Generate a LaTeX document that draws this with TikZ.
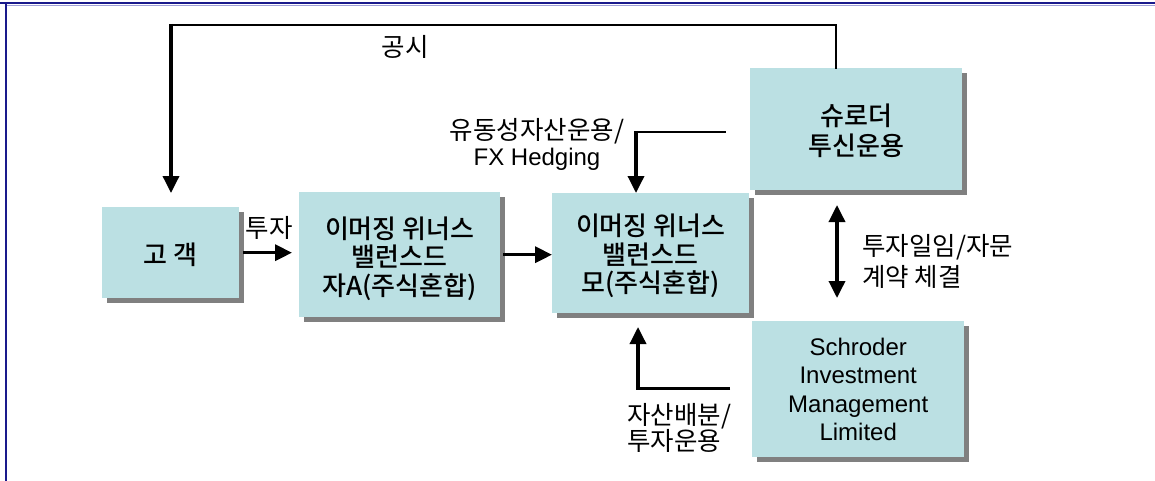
\documentclass[tikz,border=0pt]{standalone}
\usepackage{fontspec}
\setmainfont{Liberation Sans}
\newfontfamily\kr[BoldFont={Noto Sans CJK KR Medium}]{Noto Sans CJK KR}
\usetikzlibrary{arrows.meta,shadows}
\definecolor{boxfill}{RGB}{187,224,227}
\definecolor{shadowgray}{RGB}{128,128,128}
\definecolor{framebl}{RGB}{26,26,140}
\definecolor{framelt}{RGB}{160,160,215}
\begin{document}
\begin{tikzpicture}[x=1pt,y=-1pt,
  box/.style={anchor=north west, fill=boxfill, inner sep=0pt,
    drop shadow={shadow xshift=5pt, shadow yshift=-5pt, fill=shadowgray, opacity=1}},
  boxtext/.style={inner sep=0pt, align=center, font=\kr\bfseries\fontsize{26}{28.5}\selectfont},
  lab/.style={inner sep=0pt, font=\kr\fontsize{25.5}{26}\selectfont},
  tip/.tip={Triangle[width=16pt,length=17pt]},
  thk/.style={line width=3.5pt, -tip},
  thn/.style={line width=2pt}
]
\useasboundingbox (0,0) rectangle (1155,481);
% frame
\draw[framelt, line width=1pt] (6,5.5) -- (1155,5.5);
\draw[framebl, line width=2pt] (0,3.5) -- (1155,3.5);
\draw[framebl, line width=1.7pt] (5.8,3.5) -- (5.8,481);
% boxes
\node[box, minimum width=137pt, minimum height=91pt] (gogaek) at (102,207) {};
\node[box, minimum width=201pt, minimum height=125pt] (ja) at (299,192) {};
\node[box, minimum width=197pt, minimum height=120pt] (mo) at (552,193) {};
\node[box, minimum width=212pt, minimum height=122pt] (shr) at (750,68) {};
\node[box, minimum width=212pt, minimum height=136pt] (sim) at (752,321) {};
% box texts
\node[boxtext] (gogaekT) at ([yshift=-2pt]gogaek.center) {고 객};
\node[boxtext] (jaT) at ([yshift=-4pt]ja.center) {이머징 위너스\\밸런스드\\자A(주식혼합)};
\node[boxtext] (moT) at ([yshift=-3pt]mo.center) {이머징 위너스\\밸런스드\\모(주식혼합)};
\node[boxtext, font=\kr\bfseries\fontsize{26}{30}\selectfont] (shrT) at ([yshift=-2pt]shr.center) {슈로더\\투신운용};
\node[boxtext, font=\fontsize{24}{28.5}\selectfont] (simT) at (sim.center) {Schroder\\Investment\\Management\\Limited};
% labels
\node[lab] (gongsi) at (405,47) {공시};
\node[lab] (tuja) at (269,228) {투자};
\node[lab, align=center] (fx) at (537,144) {유동성자산운용/\\{\rmfamily\fontsize{24}{26}\selectfont FX Hedging}};
\node[lab, align=left, anchor=west] (jasan) at (627,428) {자산배분/\\투자운용};
\node[lab, align=left, anchor=west, font=\kr\fontsize{25.5}{31}\selectfont] (gyeyak) at (862,261) {투자일임/자문\\계약 체결};
% connectors
\coordinate (g1) at (836,25);
\coordinate (g2) at (171,25);
\coordinate (gend) at (171,193);
\draw[thn, line cap=rect] (shr.north -| g1) -- (g1) -- (g2);
\draw[thk] ([yshift=1pt]g2) -- (gend);
\draw[thk, shorten <=4pt, shorten >=7pt] (gogaek.east) -- (gogaek.east -| ja.west);
\draw[thk, shorten <=3pt] (ja.east) -- (ja.east -| mo.west);
\coordinate (f1) at (725,132);
\coordinate (f2) at (636,132);
\draw[thn, line cap=rect] (f1) -- (f2);
\draw[thk] ([yshift=1pt]f2) -- (f2 |- mo.north);
\coordinate (a1) at (730,388);
\coordinate (a2) at (638,388);
\coordinate (aend) at (638,327);
\draw[line width=3pt] (a1) -- ([xshift=-1.5pt]a2);
\draw[thk] ([yshift=-1.5pt]a2) -- (aend);
\coordinate (d1) at (837,205);
\coordinate (d2) at (837,298);
\draw[line width=3.5pt, tip-tip] (d1) -- (d2);
\end{tikzpicture}
\end{document}
